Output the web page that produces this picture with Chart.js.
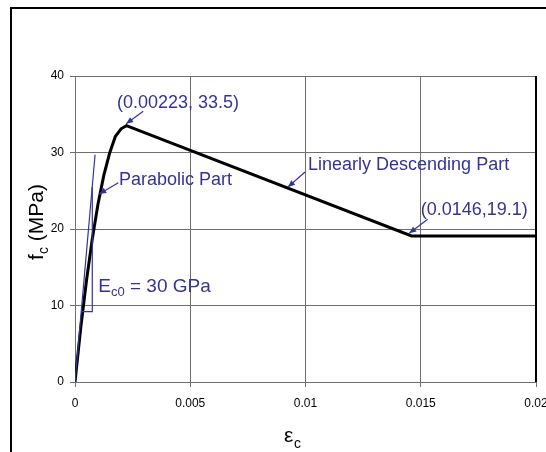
<!DOCTYPE html>
<html>
<head>
<meta charset="utf-8">
<script src="https://cdn.jsdelivr.net/npm/chart.js@4/dist/chart.umd.min.js"></script>
<style>
  html, body { margin: 0; padding: 0; background: #fff; overflow: hidden; }
  canvas { display: block; }
</style>
</head>
<body>
<canvas id="grafico" width="580" height="452"></canvas>
<script>
// datos de la curva (deformación, tensión en MPa)
const strainCurve = [0, 0.00025, 0.0005, 0.00075, 0.001, 0.00125, 0.0015, 0.00175, 0.002, 0.00223, 0.0146, 0.02];
const stressCurve = [0, 7.1, 13.3, 18.7, 23.3, 27.0, 29.9, 32.1, 33.1, 33.5, 19.1, 19.1];

// tangente inicial Ec0 y su triangulito
const strainTangent = [0, 0.00087];
const stressTangent = [0, 29.7];
const strainTriangle = [0.00027, 0.00075, 0.00075];
const stressTriangle = [9.2, 9.2, 25.5];

const xTicks = [0, 0.005, 0.01, 0.015, 0.02];
const yTicks = [0, 10, 20, 30, 40];

const blue = '#333399';

// etiquetas con flecha (en coordenadas de datos)
const notas = [
    { text: '(0.00223, 33.5)', x: 0.00182, y: 36.5, from: [0.00296, 35.4], to: [0.00222, 33.75] },
    { text: 'Parabolic Part', x: 0.00191, y: 26.4, from: [0.00188, 26.05], to: [0.00105, 24.58] },
    { text: 'Linearly Descending Part', x: 0.01011, y: 28.4, from: [0.00998, 27.45], to: [0.00924, 25.49] },
    { text: '(0.0146,19.1)', x: 0.0150, y: 22.5, from: [0.0153, 21.27], to: [0.0145, 19.44] }
];

function pares(xs, ys) {
    return xs.map((x, i) => ({ x: x, y: ys[i] }));
}

function flecha(ctx, x1, y1, x2, y2) {
    ctx.beginPath();
    ctx.moveTo(x1, y1);
    ctx.lineTo(x2, y2);
    ctx.stroke();
    const ang = Math.atan2(y2 - y1, x2 - x1);
    const L = 7, W = 3;
    ctx.beginPath();
    ctx.moveTo(x2, y2);
    ctx.lineTo(x2 - L * Math.cos(ang) + W * Math.sin(ang), y2 - L * Math.sin(ang) - W * Math.cos(ang));
    ctx.lineTo(x2 - L * Math.cos(ang) - W * Math.sin(ang), y2 - L * Math.sin(ang) + W * Math.cos(ang));
    ctx.closePath();
    ctx.fill();
}

const extras = {
    id: 'extras',
    afterDraw(chart) {
        const ctx = chart.ctx;
        const xs = chart.scales.x, ys = chart.scales.y;
        const a = chart.chartArea;
        ctx.save();

        // marco exterior
        ctx.strokeStyle = '#000';
        ctx.lineWidth = 2;
        ctx.strokeRect(11, 8, 700, 700);

        // borde derecho del área
        ctx.beginPath();
        ctx.moveTo(a.right, a.top);
        ctx.lineTo(a.right, a.bottom);
        ctx.stroke();

        // títulos de ejes
        ctx.fillStyle = '#000';
        ctx.textBaseline = 'alphabetic';
        ctx.textAlign = 'left';
        ctx.font = '21px "Liberation Sans", Arial, sans-serif';
        ctx.fillText('\u03b5', 284, 442);
        ctx.font = '14px "Liberation Sans", Arial, sans-serif';
        ctx.fillText('c', 294, 448);

        ctx.save();
        ctx.translate(43, 222);
        ctx.rotate(-Math.PI / 2);
        const f1 = '21px "Liberation Sans", Arial, sans-serif';
        const f2 = '14px "Liberation Sans", Arial, sans-serif';
        ctx.font = f1; const wf = ctx.measureText('f').width;
        ctx.font = f2; const wc = ctx.measureText('c').width;
        ctx.font = f1; const wr = ctx.measureText(' (MPa)').width;
        let x0 = -(wf + wc + wr) / 2;
        ctx.fillText('f', x0, 0);
        ctx.font = f2; ctx.fillText('c', x0 + wf, 5);
        ctx.font = f1; ctx.fillText(' (MPa)', x0 + wf + wc, 0);
        ctx.restore();

        // notas azules
        ctx.fillStyle = blue;
        ctx.strokeStyle = blue;
        ctx.lineWidth = 1.2;
        ctx.textBaseline = 'middle';
        ctx.font = '18px "Liberation Sans", Arial, sans-serif';
        notas.forEach(n => {
            ctx.fillText(n.text, xs.getPixelForValue(n.x), ys.getPixelForValue(n.y));
            flecha(ctx, xs.getPixelForValue(n.from[0]), ys.getPixelForValue(n.from[1]),
                xs.getPixelForValue(n.to[0]), ys.getPixelForValue(n.to[1]));
        });

        // E_c0 = 30 GPa
        let ex = xs.getPixelForValue(0.00101), ey = ys.getPixelForValue(12.4);
        ctx.font = '19px "Liberation Sans", Arial, sans-serif';
        ctx.fillText('E', ex, ey);
        ex += ctx.measureText('E').width;
        ctx.font = '13px "Liberation Sans", Arial, sans-serif';
        ctx.fillText('c0', ex, ey + 5);
        ex += ctx.measureText('c0').width;
        ctx.font = '19px "Liberation Sans", Arial, sans-serif';
        ctx.fillText(' = 30 GPa', ex, ey);

        ctx.restore();
    }
};

const ctx = document.getElementById('grafico').getContext('2d');
window.miGrafico = new Chart(ctx, {
    type: 'scatter',
    data: {
        datasets: [
            {
                data: pares(strainTriangle, stressTriangle),
                showLine: true, borderColor: blue, borderWidth: 1.2,
                pointRadius: 0, fill: false
            },
            {
                data: pares(strainTangent, stressTangent),
                showLine: true, borderColor: blue, borderWidth: 1.2,
                pointRadius: 0, fill: false
            },
            {
                data: pares(strainCurve, stressCurve),
                showLine: true, borderColor: '#000', borderWidth: 3,
                pointRadius: 0, fill: false, tension: 0
            }
        ]
    },
    options: {
        responsive: false,
        animation: false,
        events: [],
        layout: { padding: { left: 0, top: 76, right: 44, bottom: 0 } },
        plugins: { legend: { display: false }, tooltip: { enabled: false } },
        scales: {
            x: {
                type: 'linear', min: 0, max: 0.02,
                afterBuildTicks: s => { s.ticks = xTicks.map(v => ({ value: v })); },
                afterFit: s => { s.height = 70; },
                grid: { color: '#6e6e6e', lineWidth: 1, tickLength: 5 },
                border: { color: '#6e6e6e' },
                ticks: {
                    color: '#000', padding: 9,
                    font: { family: '"Liberation Sans", Arial, sans-serif', size: 12 },
                    callback: v => String(+v.toFixed(4))
                }
            },
            y: {
                type: 'linear', min: 0, max: 40,
                afterBuildTicks: s => { s.ticks = yTicks.map(v => ({ value: v })); },
                afterFit: s => { s.width = 75; },
                grid: { color: '#6e6e6e', lineWidth: 1, tickLength: 5 },
                border: { color: '#6e6e6e' },
                ticks: {
                    color: '#000', padding: 6,
                    font: { family: '"Liberation Sans", Arial, sans-serif', size: 12 }
                }
            }
        }
    },
    plugins: [extras]
});
</script>
</body>
</html>
